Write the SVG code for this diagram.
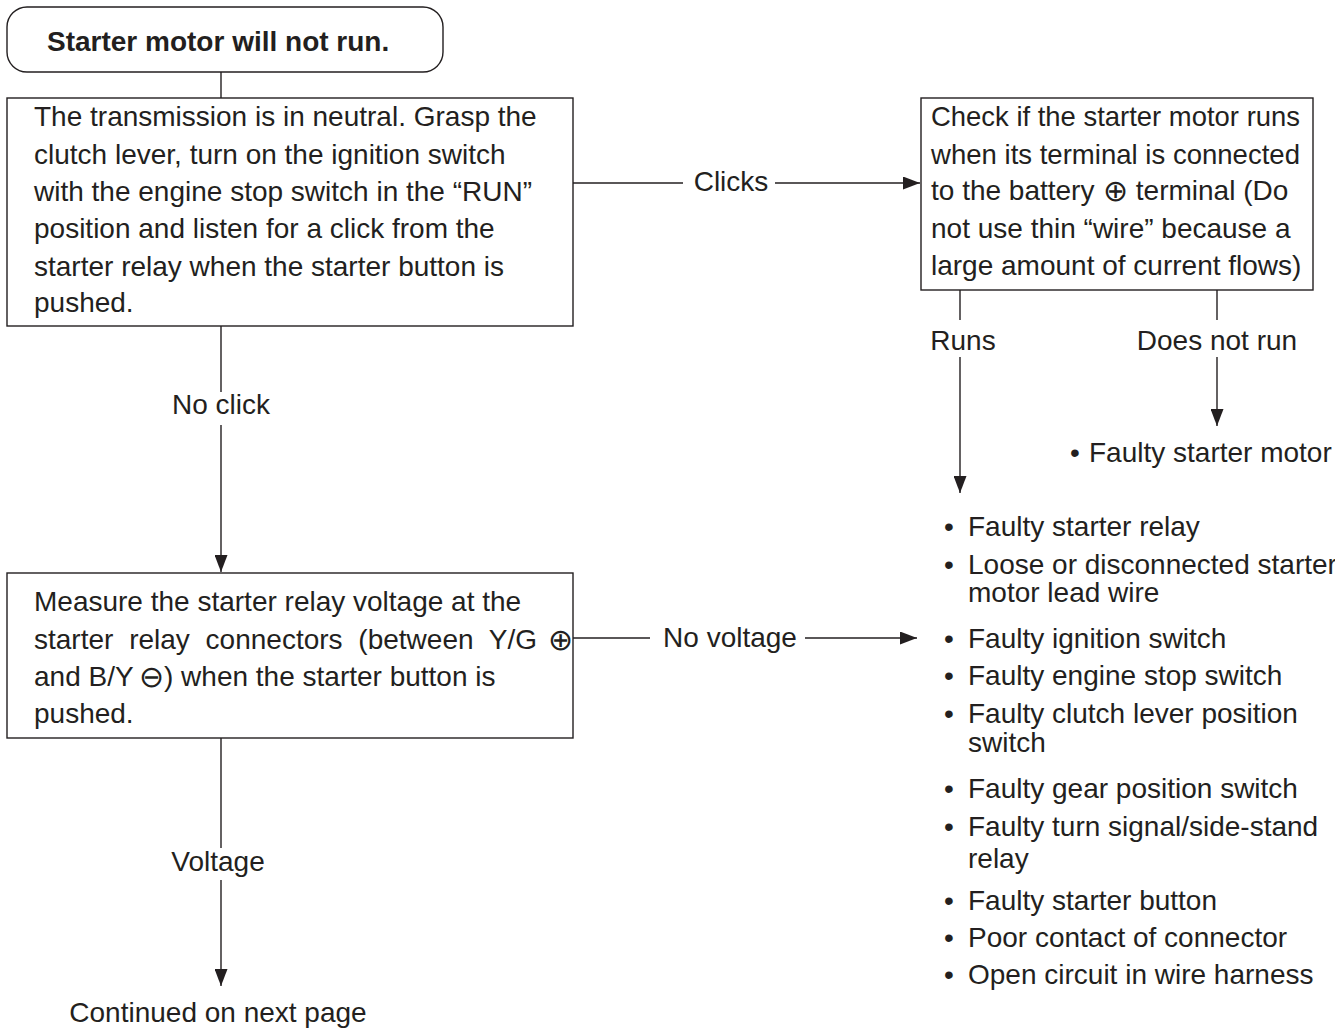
<svg xmlns="http://www.w3.org/2000/svg" width="1335" height="1028" viewBox="0 0 1335 1028">
<style>
text{font-family:"Liberation Sans",Arial,sans-serif;font-size:28px;fill:#231f20}
.b{font-weight:bold;font-size:28px}
.box{fill:#fff;stroke:#231f20;stroke-width:1.4}
.ln{stroke:#231f20;stroke-width:1.4;fill:none}
.m{text-anchor:middle}
.sym{font-family:"DejaVu Sans",sans-serif;font-size:30px;font-weight:200}
</style>
<defs>
<marker id="ah" markerWidth="17" markerHeight="13" refX="17" refY="6.5" orient="auto" markerUnits="userSpaceOnUse">
<path d="M0,0 L17,6.5 L0,13 Z" fill="#231f20"/>
</marker>
</defs>
<rect width="1335" height="1028" fill="#fff"/>
<g id="connectors">
<line class="ln" x1="221" y1="72" x2="221" y2="98"/>
<line class="ln" x1="573" y1="183" x2="683" y2="183"/>
<line class="ln" x1="775" y1="183" x2="920" y2="183" marker-end="url(#ah)"/>
<line class="ln" x1="960" y1="290" x2="960" y2="320"/>
<line class="ln" x1="960" y1="357" x2="960" y2="493" marker-end="url(#ah)"/>
<line class="ln" x1="1217" y1="290" x2="1217" y2="320"/>
<line class="ln" x1="1217" y1="357" x2="1217" y2="426" marker-end="url(#ah)"/>
<line class="ln" x1="221" y1="326" x2="221" y2="392"/>
<line class="ln" x1="221" y1="425" x2="221" y2="572" marker-end="url(#ah)"/>
<line class="ln" x1="573" y1="638" x2="650" y2="638"/>
<line class="ln" x1="805" y1="638" x2="917" y2="638" marker-end="url(#ah)"/>
<line class="ln" x1="221" y1="738" x2="221" y2="848"/>
<line class="ln" x1="221" y1="880" x2="221" y2="986" marker-end="url(#ah)"/>
<text class="m" x="731" y="191">Clicks</text>
<text class="m" x="963" y="350">Runs</text>
<text class="m" x="1217" y="350">Does not run</text>
<text class="m" x="221" y="414">No click</text>
<text class="m" x="730" y="647">No voltage</text>
<text class="m" x="218" y="871">Voltage</text>
</g>
<g id="start">
<rect class="box" x="7" y="7" width="436" height="65" rx="20" ry="20"/>
<text class="b" x="47" y="51">Starter motor will not run.</text>
</g>
<g id="check-click">
<rect class="box" x="7" y="98" width="566" height="228"/>
<text x="34" y="126">The transmission is in neutral. Grasp the</text>
<text x="34" y="164">clutch lever, turn on the ignition switch</text>
<text x="34" y="201">with the engine stop switch in the “RUN”</text>
<text x="34" y="238">position and listen for a click from the</text>
<text x="34" y="276">starter relay when the starter button is</text>
<text x="34" y="312">pushed.</text>
</g>
<g id="check-motor">
<rect class="box" x="921" y="98" width="392" height="192"/>
<text x="931" y="126" textLength="369" lengthAdjust="spacingAndGlyphs">Check if the starter motor runs</text>
<text x="931" y="164" textLength="369" lengthAdjust="spacingAndGlyphs">when its terminal is connected</text>
<text x="931" y="200">to the battery <tspan class="sym" x="1103" dy="1">⊕</tspan><tspan dy="-1"> terminal (Do</tspan></text>
<text x="931" y="238">not use thin “wire” because a</text>
<text x="931" y="275">large amount of current flows)</text>
</g>
<g id="faulty-motor">
<text x="1070" y="462">•</text>
<text x="1089" y="462">Faulty starter motor</text>
</g>
<g id="measure">
<rect class="box" x="7" y="573" width="566" height="165"/>
<text x="34" y="611">Measure the starter relay voltage at the</text>
<text x="34" y="649" word-spacing="8">starter relay connectors (between Y/G<tspan class="sym" x="548" dy="1" word-spacing="0">⊕</tspan></text>
<text x="34" y="686">and B/Y <tspan class="sym" x="139" dy="1">⊖</tspan><tspan dy="-1">) when the starter button is</tspan></text>
<text x="34" y="723">pushed.</text>
</g>
<g id="causes">
<text x="944" y="536">•</text><text x="968" y="536">Faulty starter relay</text>
<text x="944" y="574">•</text><text x="968" y="574">Loose or disconnected starter</text>
<text x="968" y="602">motor lead wire</text>
<text x="944" y="648">•</text><text x="968" y="648">Faulty ignition switch</text>
<text x="944" y="685">•</text><text x="968" y="685">Faulty engine stop switch</text>
<text x="944" y="723">•</text><text x="968" y="723">Faulty clutch lever position</text>
<text x="968" y="752">switch</text>
<text x="944" y="798">•</text><text x="968" y="798">Faulty gear position switch</text>
<text x="944" y="836">•</text><text x="968" y="836">Faulty turn signal/side-stand</text>
<text x="968" y="868">relay</text>
<text x="944" y="910">•</text><text x="968" y="910">Faulty starter button</text>
<text x="944" y="947">•</text><text x="968" y="947">Poor contact of connector</text>
<text x="944" y="984">•</text><text x="968" y="984">Open circuit in wire harness</text>
</g>
<g id="continued">
<text class="m" x="218" y="1022">Continued on next page</text>
</g>
</svg>
